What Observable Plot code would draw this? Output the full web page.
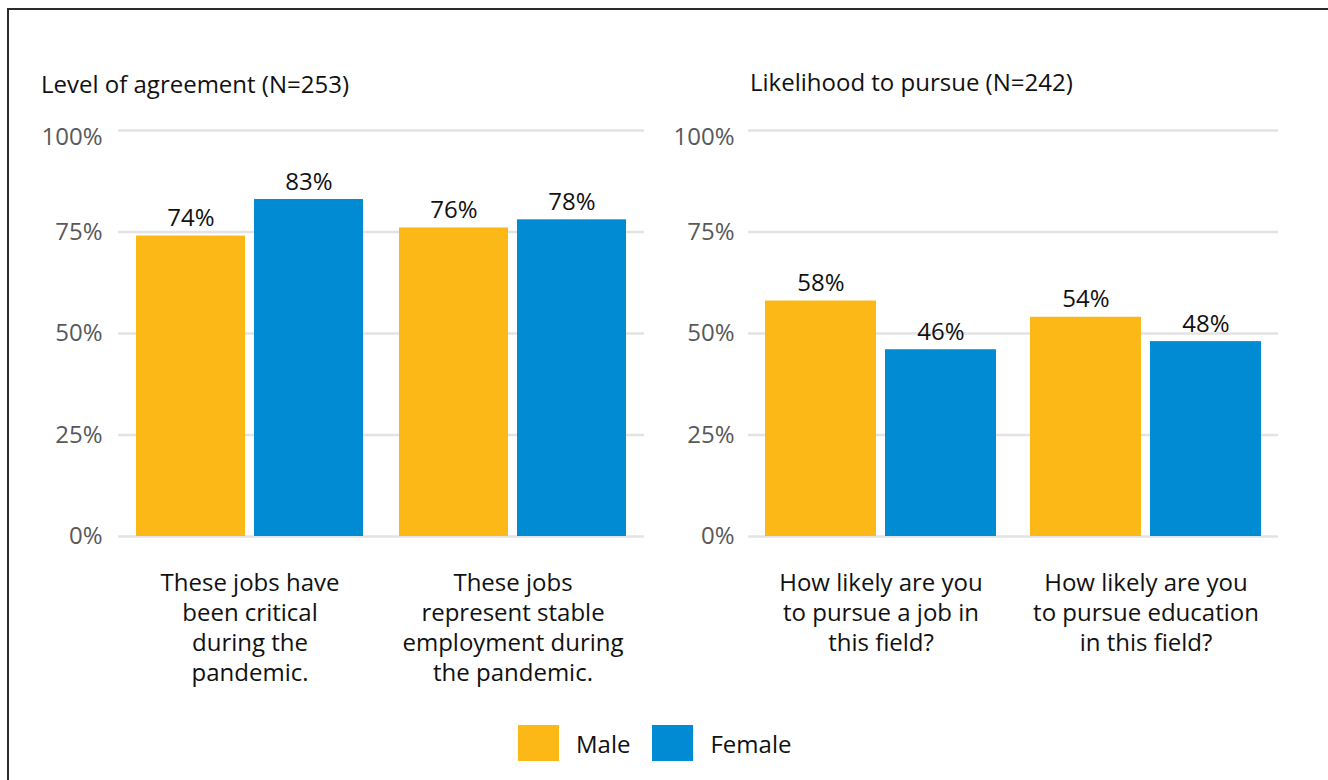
<!DOCTYPE html>
<html>
<head>
<meta charset="utf-8">
<script src="https://cdn.jsdelivr.net/npm/d3@7"></script>
<script src="https://cdn.jsdelivr.net/npm/@observablehq/plot@0.6"></script>
<style>
  html, body { margin: 0; padding: 0; background: #fff; }
  body { width: 1328px; height: 780px; position: relative; overflow: hidden; font-family: "Open Sans", Lato, sans-serif; }
  .frame { position: absolute; left: 7px; top: 8px; right: -10px; bottom: -10px; border-top: 2px solid #2b2b2b; border-left: 2px solid #2b2b2b; }
  .title { position: absolute; font-size: 24px; color: #111; white-space: nowrap; line-height: 1; }
  .panel { position: absolute; top: 100px; }
  .legend { position: absolute; top: 725px; left: 518px; display: flex; align-items: center; font-size: 24px; color: #111; }
  .sw { width: 41px; height: 36px; display: inline-block; }
</style>
</head>
<body>
<div class="frame"></div>
<div class="title" id="t1" style="left:41px; top:72px;"></div>
<div class="title" id="t2" style="left:750px; top:70px;"></div>
<div class="panel" id="p1" style="left:0px;"></div>
<div class="panel" id="p2" style="left:664px;"></div>
<div class="legend" id="legend"></div>
<script>
// ---- data ----
const sexes = ["Male", "Female"];
const colors = ["#FBB817", "#008BD3"];
const yTicks = [0, 0.25, 0.5, 0.75, 1];

const panel1Title = "Level of agreement (N=253)";
const panel1Questions = [
  "These jobs have\nbeen critical\nduring the\npandemic.",
  "These jobs\nrepresent stable\nemployment during\nthe pandemic."
];
const panel1Male = [0.74, 0.76];
const panel1Female = [0.83, 0.78];

const panel2Title = "Likelihood to pursue (N=242)";
const panel2Questions = [
  "How likely are you\nto pursue a job in\nthis field?",
  "How likely are you\nto pursue education\nin this field?"
];
const panel2Male = [0.58, 0.54];
const panel2Female = [0.46, 0.48];

function rows(questions, male, female) {
  const out = [];
  questions.forEach((q, i) => {
    out.push({q, sex: "Male", v: male[i]});
    out.push({q, sex: "Female", v: female[i]});
  });
  return out;
}

const font = "'Open Sans', Lato, sans-serif";
const pct = d => Math.round(d * 100) + "%";

function panel(questions, male, female, marginLeft, marginRight, tickPad) {
  const data = rows(questions, male, female);
  const lower = yTicks.filter(t => t < 1);
  const top = yTicks.filter(t => t >= 1);
  return Plot.plot({
    width: 664,
    height: 610,
    marginTop: 30,
    marginBottom: 174,
    marginLeft,
    marginRight,
    style: {fontFamily: font, fontSize: "24px", background: "transparent", overflow: "visible"},
    fx: {domain: questions, paddingInner: 0.129, paddingOuter: 0.0645, label: null},
    x: {domain: sexes, paddingInner: 0.075, paddingOuter: 0, axis: null},
    y: {domain: [0, 1], label: null},
    color: {domain: sexes, range: colors},
    marks: [
      Plot.ruleY(yTicks, {stroke: "#e3e3e3", strokeWidth: 2.5, insetLeft: -17, insetRight: -17}),
      Plot.axisY(lower, {tickSize: 0, tickPadding: tickPad, tickFormat: pct, fill: "#595959", fontSize: 24, label: null}),
      Plot.axisY(top, {tickSize: 0, tickPadding: tickPad, tickFormat: pct, fill: "#595959", fontSize: 24, dy: 7, label: null}),
      Plot.axisFx({anchor: "bottom", tickSize: 0, tickPadding: 33, lineHeight: 1.25, fontSize: 24, fill: "#111", label: null}),
      Plot.barY(data, {fx: "q", x: "sex", y: "v", fill: "sex"}),
      Plot.text(data, {fx: "q", x: "sex", y: "v", text: d => pct(d.v), lineAnchor: "bottom", dy: -10, fontSize: 24, fill: "#111"})
    ]
  });
}

document.getElementById("t1").textContent = panel1Title;
document.getElementById("t2").textContent = panel2Title;
document.getElementById("p1").appendChild(panel(panel1Questions, panel1Male, panel1Female, 118, 19, 33));
document.getElementById("p2").appendChild(panel(panel2Questions, panel2Male, panel2Female, 84, 50, 31));

const lg = document.getElementById("legend");
sexes.forEach((s, i) => {
  const sw = document.createElement("span");
  sw.className = "sw";
  sw.style.background = colors[i];
  sw.style.marginRight = "17px";
  const t = document.createElement("span");
  t.textContent = s;
  t.style.marginRight = i === 0 ? "22px" : "0";
  lg.appendChild(sw);
  lg.appendChild(t);
});
</script>
</body>
</html>
